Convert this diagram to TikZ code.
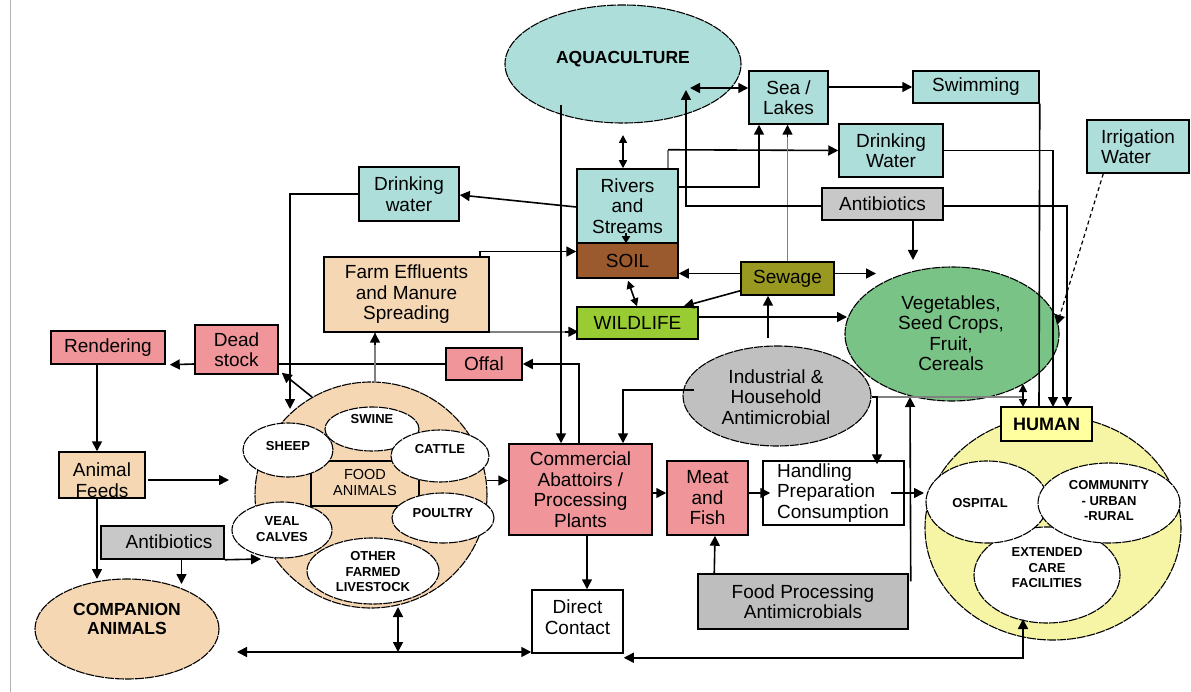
\documentclass[tikz,border=0pt]{standalone}
\usepackage{fontspec}
\setmainfont{Liberation Sans}
\usetikzlibrary{arrows.meta,calc,shapes.geometric}
\definecolor{cyanbox}{RGB}{173,222,218}
\definecolor{grayA}{RGB}{200,200,200}
\definecolor{grayF}{RGB}{190,190,190}
\definecolor{grayI}{RGB}{192,192,192}
\definecolor{soilc}{RGB}{155,90,45}
\definecolor{sewc}{RGB}{153,153,34}
\definecolor{wildc}{RGB}{153,204,51}
\definecolor{peach}{RGB}{245,215,180}
\definecolor{pinkc}{RGB}{240,150,155}
\definecolor{vegc}{RGB}{122,195,135}
\definecolor{humy}{RGB}{245,245,165}
\definecolor{humbox}{RGB}{255,255,160}
\newcommand\dgmain{\fontsize{19}{20.5}\selectfont}
\newcommand\dgsmall{\fontsize{13}{15.5}\selectfont\bfseries}
\newcommand\dgbig{\fontsize{17.5}{19}\selectfont\bfseries}
\begin{document}
\begin{tikzpicture}[x=1pt,y=-1pt,
  box/.style={draw=black, line width=1.5pt, rectangle, inner sep=0pt, align=center, font=\dgmain},
  ell/.style={draw=black, line width=1.1pt, dash pattern=on 9pt off 1pt, ellipse, inner sep=0pt},
  lbl/.style={align=center, inner sep=0pt, font=\dgmain},
  slbl/.style={align=center, inner sep=0pt, font=\dgsmall},
  conn/.style={line width=1.6pt, draw=black},
  arr/.style={conn, -{Triangle[length=10pt,width=10pt]}},
  darr/.style={conn, {Triangle[length=10pt,width=10pt]}-{Triangle[length=10pt,width=10pt]}},
  sdarr/.style={conn, {Triangle[length=8pt,width=8pt]}-{Triangle[length=8pt,width=8pt]}}
]
\useasboundingbox (0,0) rectangle (1191,692);
\fill[white] (0,0) rectangle (1191,692);
\draw[black!30, line width=1pt] (10,0) -- (10,692);

% ---------- nodes ----------
\node[ell, fill=cyanbox, minimum width=236pt, minimum height=118pt] (aqua) at (623,64) {};
\node[lbl, font=\dgbig] (aquaT) at (623,59) {AQUACULTURE};

\node[box, fill=cyanbox, minimum width=79pt, minimum height=53pt] (sea) at (788.5,97.5) {Sea /\\Lakes};
\node[box, fill=cyanbox, minimum width=126pt, minimum height=32pt] (swim) at (976,87) {Swimming};
\node[box, fill=cyanbox, minimum width=104pt, minimum height=53pt] (dwR) at (891,150.5) {Drinking\\Water};
\node[box, fill=grayA, minimum width=121pt, minimum height=32pt] (antiT) at (882.5,204) {Antibiotics};
\node[box, fill=cyanbox, minimum width=102pt, minimum height=53pt, align=left] (irr) at (1138,146.5) {Irrigation\\Water};

\node[box, fill=cyanbox, minimum width=101pt, minimum height=74pt] (rivers) at (627.5,206) {Rivers\\and\\Streams};
\node[box, fill=soilc, minimum width=101pt, minimum height=35pt] (soil) at (627.5,260.5) {SOIL};
\node[box, fill=sewc, minimum width=93pt, minimum height=33pt] (sewage) at (787.5,278.5) {Sewage};
\node[box, fill=wildc, minimum width=121pt, minimum height=32pt] (wild) at (637.5,323) {WILDLIFE};

\node[box, fill=cyanbox, minimum width=100pt, minimum height=54pt] (dwL) at (409,194) {Drinking\\water};
\node[box, fill=peach, minimum width=165pt, minimum height=75pt] (farm) at (406.5,294.5) {Farm Effluents\\and Manure\\Spreading};
\node[box, fill=pinkc, minimum width=76pt, minimum height=32pt] (offal) at (484,364) {Offal};
\node[box, fill=pinkc, minimum width=83pt, minimum height=49pt] (dead) at (236.5,349.5) {Dead\\stock};
\node[box, fill=pinkc, minimum width=114pt, minimum height=33pt] (rend) at (108,347.5) {Rendering};

\node[box, fill=peach, minimum width=86pt, minimum height=46pt] (feeds) at (102,475) {};
\node[lbl] (feedsT) at (102,480) {Animal\\Feeds};
\node[box, fill=grayA, minimum width=123pt, minimum height=33pt] (antiL) at (162.5,542.5) {};
\node[lbl] (antiLT) at (169,542) {Antibiotics};

\node[ell, fill=peach, minimum width=184pt, minimum height=100pt] (comp) at (127,629) {};
\node[lbl, font=\dgbig] (compT) at (127,619) {COMPANION\\ANIMALS};

% food animals
\node[ell, fill=peach, minimum width=232pt, minimum height=226pt] (food) at (371,495) {};
\node[draw=black, line width=1.5pt, fill=peach, minimum width=108pt, minimum height=45pt, inner sep=0pt] (foodbox) at (365,483.5) {};
\node[ell, fill=white, minimum width=94pt, minimum height=44pt] (swine) at (372,429) {};
\node[ell, fill=white, minimum width=98pt, minimum height=52pt] (cattle) at (440,456) {};
\node[ell, fill=white, minimum width=90pt, minimum height=54pt] (sheep) at (288,450) {};
\node[ell, fill=white, minimum width=102pt, minimum height=50pt] (poultry) at (443,518) {};
\node[ell, fill=white, minimum width=100pt, minimum height=56pt] (veal) at (282,530) {};
\node[ell, fill=white, minimum width=132pt, minimum height=66pt] (other) at (373,571) {};
\node[slbl] (swineT) at (372,419) {SWINE};
\node[slbl] (cattleT) at (440,449) {CATTLE};
\node[slbl] (sheepT) at (288,446) {SHEEP};
\node[slbl] (poultryT) at (443,513) {POULTRY};
\node[slbl] (vealT) at (282,529) {VEAL\\CALVES};
\node[slbl] (otherT) at (373,572) {OTHER\\FARMED\\LIVESTOCK};
\node[lbl, font=\fontsize{14.5}{16}\selectfont] (foodT) at (365,483) {FOOD\\ANIMALS};

\node[box, fill=pinkc, minimum width=143pt, minimum height=91pt] (comm) at (580.5,489.5) {Commercial\\Abattoirs /\\Processing\\Plants};
\node[box, fill=pinkc, minimum width=81pt, minimum height=74pt] (meat) at (707.5,498) {Meat\\and\\Fish};
\node[box, fill=white, minimum width=141pt, minimum height=64pt] (hand) at (833.5,493) {};
\node[lbl, align=left] (handT) at (833,493) {Handling\\Preparation\\Consumption};
\node[box, fill=white, minimum width=91pt, minimum height=63pt] (direct) at (577.5,621.5) {};
\node[lbl] (directT) at (577.5,617) {Direct\\Contact};
\node[box, fill=grayF, minimum width=210pt, minimum height=55pt] (fpa) at (803,601.5) {Food Processing\\Antimicrobials};

\node[ell, fill=grayI, minimum width=188pt, minimum height=100pt] (ind) at (777,396) {};
\node[lbl] (indT) at (776,397) {Industrial \&\\Household\\Antimicrobial};
\node[ell, fill=vegc, minimum width=214pt, minimum height=134pt] (veg) at (952,334) {};
\node[lbl] (vegT) at (951,333) {Vegetables,\\Seed Crops,\\Fruit,\\Cereals};

% human
\node[ell, fill=humy, minimum width=256pt, minimum height=224pt] (humc) at (1053,528) {};
\node[ell, fill=white, minimum width=146pt, minimum height=96pt] (ext) at (1047,575) {};
\node[ell, fill=white, minimum width=122pt, minimum height=82pt] (osp) at (987,502) {};
\node[ell, fill=white, minimum width=142pt, minimum height=80pt] (commu) at (1109,503) {};
\node[slbl] (extT) at (1047,568) {EXTENDED\\CARE\\FACILITIES};
\node[slbl] (ospT) at (980,503) {OSPITAL};
\node[slbl] (commuT) at (1109,501) {COMMUNITY\\- URBAN\\-RURAL};
\node[box, fill=humbox, minimum width=91pt, minimum height=34pt, font=\fontsize{18}{20}\selectfont\bfseries] (human) at (1046.5,424) {HUMAN};

% ---------- coordinates ----------
\coordinate (aquaR) at (690,88);
\coordinate (aquaB) at (623,135);
\coordinate (aquaA) at (686,90);
\coordinate (aquaC) at (561,105);
\coordinate (hx0) at (1023,407);
\coordinate (hx1) at (1039,407);
\coordinate (hx2) at (1053,407);
\coordinate (hx3) at (1067,407);
\coordinate (vegTop) at (913,260);
\coordinate (vegR) at (1057,325);
\coordinate (vegSW) at (876,273.5);
\coordinate (vegL) at (847,317);
\coordinate (vegB) at (910,397);
\coordinate (vegH) at (1023,397);
\coordinate (vegHB) at (1023,384);
\coordinate (foodTL) at (290,409);
\coordinate (foodD) at (312,397);
\coordinate (foodTop) at (375,383);
\coordinate (foodL) at (229,480);
\coordinate (foodR) at (487,480.5);
\coordinate (foodB) at (398,607);
\coordinate (compTop) at (97,579);
\coordinate (compTop2) at (181.5,584);
\coordinate (compR) at (237,652);
\coordinate (vealL) at (261,559);
\coordinate (humL) at (924,493);
\coordinate (extB) at (1023,619);

% ---------- connectors ----------
\draw[darr] (aquaR) -- (sea.west |- aquaR);
\draw[arr] (sea.east |- swim.west) -- (swim.west);
\draw[conn] (swim.south east) -- (hx1);
\draw[arr] (dwR.east) -| (hx2);
\draw[arr] ($(antiT.east)+(0,2)$) -| (hx3);
\draw[arr] (antiT.south -| vegTop) -- (vegTop);
\draw[conn, dash pattern=on 4pt off 3pt, line width=1.2pt, -{Triangle[length=10pt,width=10pt]}] ($(irr.south west)+(17,0)$) -- (vegR);

\draw[sdarr] (aquaB) -- (aquaB |- rivers.north);
\draw[arr] ($(rivers.east)+(0,-19)$) -| ($(sea.south)+(-29.5,0)$);
\draw[conn, black!50] ($(rivers.north)+(40.5,0)$) -- ($(rivers.north)+(40.5,-18.5)$);
\draw[arr] ($(rivers.north)+(40.5,-18.5)$) -- (dwR.west);
\draw[conn, black!50] (sewage.north) -- (sewage.north |- sea.south);
\draw[arr] ($(sewage.north |- sea.south)+(0,12)$) -- (sewage.north |- sea.south);
\draw[arr] ($(antiT.west)+(0,2)$) -| (aquaA);
\draw[arr] ($(rivers.west)+(0,1)$) -- ($(dwL.east)+(0,1)$);
\draw[arr] (dwL.west) -| (foodTL);
\draw[arr] ($(farm.north east)+(-10,0)$) |- ($(soil.west)+(0,-9)$);
\draw[conn, black!50] ($(farm.south east)+(0,-1)$) -- ($(wild.south west)+(-10,-8)$);
\draw[arr] ($(wild.south west)+(-11,-8)$) -- ($(wild.south west)+(2,-8)$);
\draw[conn, -{Triangle[length=7pt,width=8pt]}] ($(soil.north)+(-1.5,-9)$) -- ($(soil.north)+(-1.5,1)$);
\draw[sdarr] ($(soil.south)+(0.5,2)$) -- ($(wild.north)+(-0.5,0)$);
\draw[arr] ($(sewage.west)+(0,-5)$) -- ($(soil.east)+(0,13)$);
\draw[arr] ($(sewage.east)+(0,-5)$) -- (vegSW);
\draw[arr] ($(sewage.south west)+(0,-5)$) -- ($(wild.north east)+(-15,0)$);
\draw[arr] ($(sewage.south)+(-19.5,42)$) -- ($(sewage.south)+(-19.5,0)$);
\draw[arr] ($(wild.east)+(0,-6)$) -- (vegL);

\draw[arr] (aquaC) -- (aquaC |- comm.north);
\draw[arr] ($(comm.north)+(-1.5,0)$) |- (offal.east);
\draw[arr] ($(ind.west)+(12,-6)$) -| ($(comm.north)+(42.5,0)$);
\draw[conn] (offal.west) -- (offal.west -| dead.east);
\draw[arr] (dead.west |- offal.west) -- ($(rend.south east)+(4,0)$);
\draw[arr] (foodD) -- ($(dead.south east)+(3,-2)$);
\draw[conn, black!50] (foodTop) -- (foodTop |- farm.south);
\draw[arr] ($(foodTop |- farm.south)+(0,12)$) -- (foodTop |- farm.south);
\draw[arr] ($(rend.south)+(-11,0)$) -- ($(feeds.north)+(-5,0)$);
\draw[arr] ($(feeds.east)+(2,5)$) -- (foodL);
\draw[arr] ($(feeds.south)+(-5,0)$) -- (compTop);
\draw[arr] (antiL.south -| compTop2) -- (compTop2);
\draw[arr] (antiL.south east) -- (vealL);

\draw[arr] (foodR) -- (comm.west |- foodR);
\draw[arr] ($(comm.east)+(0,3.5)$) -- ($(meat.west)+(0,-5)$);
\draw[arr] ($(meat.east)+(0,-5)$) -- ($(hand.west)+(8,0)$);
\draw[arr] ($(hand.east)+(-14,0)$) -- (humL);
\draw[arr] ($(fpa.north west)+(17,0)$) -- ($(meat.south)+(7.5,0)$);
\draw[arr] ($(fpa.north east)+(2,8)$) -- (vegB);
\draw[conn, black!50] ($(ind.east)+(0,1)$) -- (vegH);
\draw[arr] ($(ind.east)+(0,1)$) -| ($(hand.north)+(43.5,4)$);
\draw[sdarr] (vegHB) -- (hx0);
\draw[arr] ($(comm.south)+(6.5,0)$) -- ($(direct.north)+(9.5,0)$);
\draw[darr] (compR) -- (direct.south west |- compR);
\draw[darr] (foodB) -- (foodB |- compR);
\draw[darr] ($(direct.south east)+(0,4)$) -| (extB);
\end{tikzpicture}
\end{document}
